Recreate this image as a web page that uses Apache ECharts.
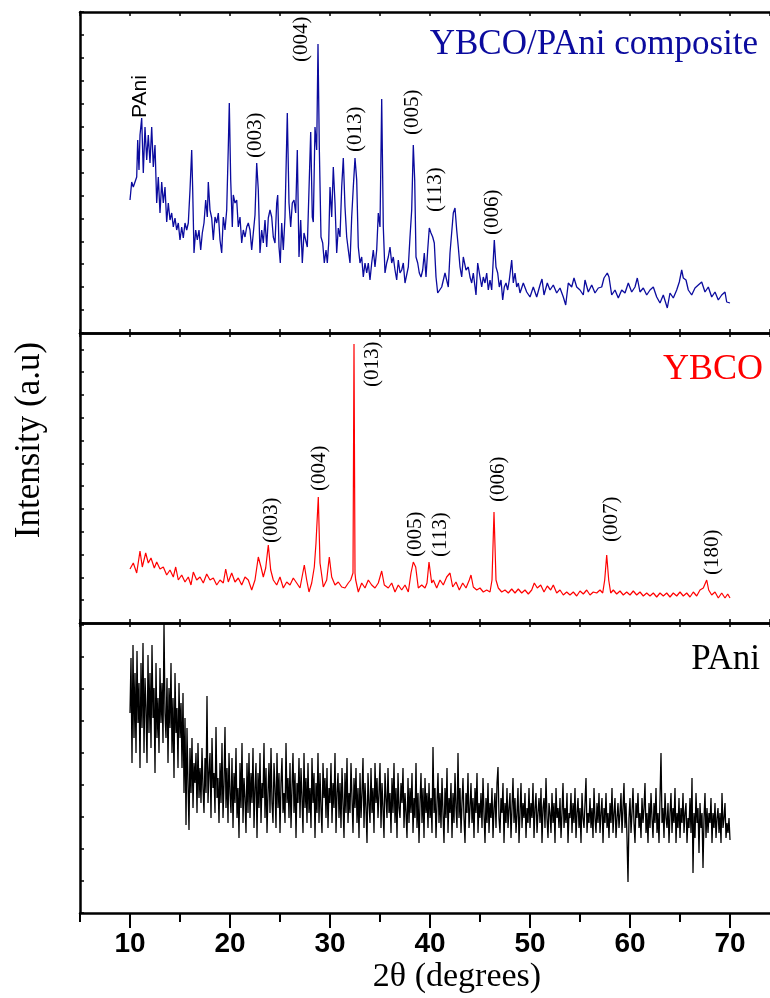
<!DOCTYPE html>
<html>
<head>
<meta charset="utf-8">
<script src="https://cdn.jsdelivr.net/npm/echarts@6/dist/echarts.min.js"></script>
<style>
  html, body { margin: 0; padding: 0; background: #ffffff; }
  #chart { width: 770px; height: 998px; }
</style>
</head>
<body>
<div id="chart"></div>
<script>
// XRD scans: [2θ (degrees), intensity (a.u.)]
const compositeScan = [
  [10.00,133],[10.17,151],[10.33,146],[10.50,151],[10.67,156],[10.77,193],[10.90,163],[11.00,198],[11.17,215],[11.33,160],
  [11.50,206],[11.67,173],[11.83,198],[12.00,170],[12.17,206],[12.33,166],[12.50,188],[12.67,130],[12.83,156],[13.00,120],
  [13.17,151],[13.33,130],[13.50,146],[13.67,111],[13.83,130],[14.00,113],[14.17,120],[14.33,106],[14.50,115],[14.67,103],
  [14.83,110],[15.00,93],[15.17,106],[15.33,95],[15.50,110],[15.67,103],[15.83,110],[16.00,143],[16.17,183],[16.27,143],
  [16.40,80],[16.57,103],[16.73,93],[16.90,103],[17.07,83],[17.23,100],[17.40,110],[17.57,133],[17.73,116],[17.83,151],
  [18.00,123],[18.17,115],[18.33,93],[18.50,116],[18.67,110],[18.83,120],[19.00,93],[19.17,80],[19.33,116],[19.50,103],
  [19.67,123],[19.83,186],[19.93,230],[20.07,153],[20.23,106],[20.33,138],[20.50,130],[20.67,133],[20.83,106],[21.00,116],
  [21.17,90],[21.33,103],[21.50,96],[21.67,106],[21.83,110],[22.00,103],[22.17,83],[22.33,100],[22.50,118],[22.67,170],
  [22.83,143],[23.00,80],[23.17,103],[23.33,90],[23.50,113],[23.67,86],[23.83,115],[24.00,123],[24.17,116],[24.33,96],
  [24.50,90],[24.67,130],[24.77,138],[24.90,86],[25.03,70],[25.17,110],[25.33,83],[25.50,116],[25.73,220],[25.90,130],
  [26.07,106],[26.23,130],[26.40,133],[26.57,120],[26.73,183],[26.90,76],[27.07,113],[27.23,70],[27.40,100],[27.57,101],
  [27.73,86],[27.90,86],[28.07,201],[28.23,116],[28.33,111],[28.50,206],[28.67,183],[28.80,289],[28.93,186],[29.10,96],
  [29.27,90],[29.43,70],[29.60,83],[29.73,70],[29.87,90],[30.00,146],[30.17,116],[30.33,166],[30.50,130],[30.67,80],
  [30.83,105],[31.00,96],[31.17,146],[31.33,175],[31.50,126],[31.67,96],[31.83,83],[32.00,70],[32.17,116],[32.33,146],
  [32.50,175],[32.67,153],[32.83,86],[33.00,70],[33.17,76],[33.33,56],[33.50,70],[33.67,60],[33.83,70],[34.00,53],
  [34.17,70],[34.33,83],[34.50,66],[34.67,83],[34.83,120],[35.00,106],[35.17,234],[35.33,106],[35.50,60],[35.67,70],
  [35.83,76],[36.00,86],[36.17,70],[36.33,76],[36.50,63],[36.67,53],[36.83,73],[37.00,60],[37.17,63],[37.33,70],
  [37.50,50],[37.67,50],[37.83,66],[38.00,96],[38.17,123],[38.33,188],[38.47,153],[38.60,76],[38.77,70],[38.93,60],
  [39.10,56],[39.27,63],[39.43,80],[39.60,56],[39.77,83],[39.93,105],[40.10,100],[40.27,96],[40.43,90],[40.60,56],
  [40.77,40],[40.93,40],[41.17,46],[41.50,60],[41.83,46],[42.00,80],[42.33,120],[42.50,125],[42.67,103],[42.83,86],
  [43.00,66],[43.17,56],[43.33,76],[43.60,63],[43.83,66],[44.00,56],[44.17,50],[44.33,60],[44.60,38],[44.77,70],
  [45.00,56],[45.17,46],[45.33,56],[45.50,50],[45.67,60],[45.83,43],[46.00,53],[46.17,43],[46.43,93],[46.60,66],
  [46.77,60],[46.93,46],[47.10,53],[47.27,33],[47.43,46],[47.60,50],[47.77,43],[47.93,53],[48.17,73],[48.33,50],
  [48.50,60],[48.67,46],[48.83,50],[49.00,40],[49.33,50],[49.67,41],[50.00,36],[50.33,46],[50.67,36],[51.00,48],
  [51.20,54],[51.40,38],[51.73,50],[52.00,43],[52.33,48],[52.67,40],[53.00,45],[53.33,36],[53.57,28],[53.83,50],
  [54.17,46],[54.40,55],[54.67,46],[55.00,43],[55.33,38],[55.50,53],[55.83,41],[56.17,48],[56.50,40],[56.83,45],
  [57.17,46],[57.40,55],[57.73,60],[57.90,56],[58.17,38],[58.50,43],[58.83,35],[59.17,43],[59.50,40],[59.83,50],
  [60.17,41],[60.50,46],[60.73,55],[61.00,41],[61.33,45],[61.67,38],[62.00,43],[62.33,46],[62.67,36],[63.00,30],
  [63.33,38],[63.73,25],[64.00,40],[64.33,35],[64.67,43],[64.93,51],[65.17,63],[65.33,55],[65.60,53],[65.83,43],
  [66.17,38],[66.50,45],[66.83,48],[67.17,51],[67.50,41],[67.83,46],[68.17,36],[68.50,41],[68.83,33],[69.17,38],
  [69.50,41],[69.67,31],[70.00,30]
];

const ybcoScan = [
  [10.00,54],[10.33,60],[10.67,50],[11.00,72],[11.23,56],[11.57,70],[11.83,60],[12.10,65],[12.43,55],[12.67,61],
  [13.00,54],[13.33,56],[13.67,48],[14.00,53],[14.33,46],[14.57,56],[14.83,43],[15.17,48],[15.50,41],[15.83,46],
  [16.10,38],[16.33,51],[16.67,43],[17.00,46],[17.33,40],[17.67,49],[18.00,43],[18.33,45],[18.67,38],[19.00,43],
  [19.33,40],[19.57,54],[19.83,41],[20.17,50],[20.50,41],[20.83,45],[21.17,38],[21.50,46],[21.83,43],[22.17,33],
  [22.50,43],[22.83,66],[23.10,56],[23.33,46],[23.57,55],[23.83,78],[24.07,53],[24.33,43],[24.67,38],[25.00,46],
  [25.33,35],[25.67,41],[26.00,38],[26.33,45],[26.67,40],[27.00,35],[27.43,58],[27.67,43],[27.90,31],[28.17,40],
  [28.43,56],[28.60,80],[28.83,126],[29.00,60],[29.10,53],[29.33,36],[29.67,43],[29.93,66],[30.17,46],[30.50,38],
  [30.83,41],[31.17,36],[31.50,35],[31.83,40],[32.07,43],[32.30,50],[32.40,279],[32.50,50],[32.57,43],[32.83,31],
  [33.17,40],[33.50,35],[33.83,43],[34.17,38],[34.50,35],[34.83,40],[35.17,52],[35.43,38],[35.83,35],[36.17,40],
  [36.50,31],[36.83,38],[37.17,33],[37.50,38],[37.83,31],[38.10,50],[38.33,61],[38.57,56],[38.83,35],[39.17,38],
  [39.50,35],[39.70,40],[39.90,61],[40.17,40],[40.33,43],[40.67,35],[41.00,43],[41.33,38],[41.67,46],[42.00,50],
  [42.27,36],[42.60,41],[42.93,33],[43.27,40],[43.60,35],[43.93,43],[44.10,48],[44.33,36],[44.67,33],[45.00,35],
  [45.33,31],[45.67,33],[46.00,31],[46.20,43],[46.40,111],[46.60,43],[46.83,35],[47.17,31],[47.50,33],[47.83,30],
  [48.17,34],[48.50,30],[48.83,34],[49.17,30],[49.50,33],[49.83,29],[50.17,33],[50.43,40],[50.73,35],[51.07,38],
  [51.40,31],[51.73,37],[52.07,33],[52.33,38],[52.67,30],[53.00,33],[53.33,28],[53.67,31],[54.00,28],[54.33,31],
  [54.67,27],[55.00,32],[55.33,29],[55.67,33],[56.00,28],[56.33,31],[56.67,30],[57.00,33],[57.27,30],[57.47,43],
  [57.67,68],[57.87,43],[58.07,30],[58.33,33],[58.67,29],[59.00,32],[59.33,28],[59.67,31],[60.00,28],[60.33,32],
  [60.67,28],[61.00,31],[61.33,27],[61.67,30],[62.00,27],[62.33,30],[62.67,26],[63.00,30],[63.33,27],[63.67,30],
  [64.00,26],[64.33,30],[64.67,27],[65.00,31],[65.33,27],[65.67,30],[66.00,26],[66.33,31],[66.67,27],[67.00,33],
  [67.33,35],[67.67,43],[67.87,33],[68.17,28],[68.50,31],[68.83,25],[69.17,30],[69.50,25],[69.77,29],[70.00,25]
];

// PAni scan sampled every 0.1° from 10.0° (one row per degree)
const paniStart = 10.0;
const paniStep = 0.1;
const paniCounts = [
  200,255,150,268,175,240,160,262,190,230,
  145,250,185,270,160,235,205,150,258,180,
  240,165,268,195,225,140,250,175,215,160,
  245,190,230,170,290,200,175,235,150,225,
  185,250,160,215,135,240,180,205,145,230,
  175,210,145,220,120,195,88,185,130,83,
  165,120,175,105,150,130,160,100,170,115,
  145,110,165,125,100,155,120,217,110,140,
  160,95,175,125,140,100,186,115,135,90,
  150,110,170,95,130,186,105,145,90,160,
  120,100,155,85,140,110,165,95,125,75,
  150,105,170,90,135,115,80,150,100,160,
  95,140,110,165,85,125,150,75,140,105,
  160,90,130,115,170,95,145,80,120,150,
  100,165,110,90,150,125,85,160,105,140,
  80,130,155,100,120,90,170,110,135,95,
  150,85,125,160,100,140,75,130,110,155,
  95,145,115,80,160,105,135,90,150,100,
  125,85,155,110,140,75,130,100,160,90,
  140,105,80,150,115,135,95,145,85,125,
  110,150,90,130,105,160,80,120,140,95,
  130,85,145,110,75,140,100,155,90,120,
  100,150,115,80,135,105,145,90,125,75,
  140,95,120,155,85,130,105,70,140,110,
  90,145,100,125,80,150,110,135,95,120,
  150,85,130,105,75,140,115,95,145,100,
  120,80,135,100,150,90,125,75,140,105,
  95,130,110,145,85,120,100,75,135,90,
  125,100,140,80,115,95,150,85,120,70,
  110,140,90,125,75,135,100,120,85,130,
  95,115,80,166,100,125,75,110,140,90,
  120,85,135,100,70,125,95,145,80,115,
  100,130,75,120,90,140,105,85,160,95,
  125,80,110,135,95,70,120,100,140,85,
  105,130,90,115,75,125,100,140,80,110,
  95,120,85,135,100,70,115,90,130,80,
  110,95,125,75,105,120,85,130,146,95,
  80,115,100,130,70,110,90,125,85,105,
  120,75,105,135,90,115,80,100,125,70,
  100,130,85,110,95,120,75,105,90,125,
  85,110,95,130,75,105,120,80,100,115,
  90,125,70,105,115,85,135,95,75,110,
  100,80,120,90,110,70,125,95,105,85,
  115,75,100,130,85,105,90,120,70,100,
  95,120,80,110,90,125,75,100,115,85,
  105,70,120,95,85,110,135,80,100,90,
  115,85,105,75,125,95,80,110,90,120,
  80,100,115,70,105,90,120,85,100,75,
  110,90,125,80,100,115,75,95,110,85,
  100,120,80,105,130,85,110,75,31,95,
  115,80,100,125,90,70,110,95,120,85,
  100,75,115,90,105,130,80,100,70,110,
  85,120,95,75,110,90,125,80,100,70,
  115,160,90,105,75,120,95,85,110,70,
  100,120,80,105,90,125,70,100,85,115,
  75,105,90,120,80,100,110,70,95,85,
  115,80,135,40,100,75,120,90,105,60,
  110,85,100,45,95,120,75,105,80,100,
  90,115,70,100,85,110,75,95,105,80,
  100,70,120,85,95,110,75,90,80,95,
  73
];

// Reflection labels: [2θ, intensity where the label starts, text]
const compositePeaks = [
  [11.0, 215, 'PAni'], [22.5, 175, '(003)'], [27.1, 271, '(004)'], [32.5, 181, '(013)'],
  [38.2, 198, '(005)'], [40.5, 121, '(113)'], [46.2, 98, '(006)']
];
const ybcoPeaks = [
  [24.1, 80, '(003)'], [28.9, 132, '(004)'], [34.2, 236, '(013)'], [38.5, 66, '(005)'],
  [41.0, 66, '(113)'], [46.8, 121, '(006)'], [58.1, 81, '(007)'], [68.2, 48, '(180)']
];

const panelNames = ['YBCO/PAni composite', 'YBCO', 'PAni'];
const xMajorTicks = [10, 20, 30, 40, 50, 60, 70];
const xMinorTicks = [5, 15, 25, 35, 45, 55, 65];
const xTitle = '2\u03b8 (degrees)';
const yTitle = 'Intensity (a.u)';

const SERIF = '"Liberation Serif", "Times New Roman", Times, serif';
const SANS = '"Liberation Sans", Arial, Helvetica, sans-serif';
const NARROW = '"Liberation Sans Narrow", "Arial Narrow", "Liberation Sans", Arial, sans-serif';
const BLUE = '#0b0b9e';
const RED = '#ff0000';
const AXIS_LINE = { color: '#000', width: 2.5 };

const paniScan = paniCounts.map((v, i) => [+(paniStart + i * paniStep).toFixed(1), v]);

function borderAxis(gridIndex, position) {
  return {
    type: 'value', gridIndex, position, min: 5, max: 74, interval: 5,
    axisLine: { show: true, onZero: false, lineStyle: AXIS_LINE },
    axisTick: { show: true, inside: true, length: 4, lineStyle: { color: '#000', width: 1.5 } },
    axisLabel: { show: false }, splitLine: { show: false }
  };
}

function sideAxis(gridIndex, max, interval) {
  return {
    type: 'value', gridIndex, min: 0, max, interval,
    axisLine: { show: true, onZero: false, lineStyle: AXIS_LINE },
    axisTick: { show: true, inside: true, length: 4, lineStyle: { color: '#000', width: 1.5 } },
    axisLabel: { show: false }, splitLine: { show: false }
  };
}

// Vertical hkl annotations anchored at the foot of each label
function peakLabels(peaks, xAxisIndex, yAxisIndex) {
  return {
    type: 'scatter', xAxisIndex, yAxisIndex, symbolSize: 1, silent: true, z: 5,
    itemStyle: { color: 'rgba(0,0,0,0)' },
    data: peaks.map(p => ({
      value: [p[0], p[1]], name: p[2],
      label: p[2] === 'PAni' ? { fontFamily: SANS } : {}
    })),
    label: {
      show: true, formatter: '{b}', rotate: 90, position: [0.5, 0.5],
      align: 'left', verticalAlign: 'middle',
      fontFamily: SERIF, fontSize: 21, color: '#000', opacity: 1
    }
  };
}

const chart = echarts.init(document.getElementById('chart'), null, { renderer: 'canvas' });

chart.setOption({
  animation: false,
  backgroundColor: '#ffffff',
  grid: [
    { left: 80, right: 0, top: 12, height: 321 },
    { left: 80, right: 0, top: 333, height: 290 },
    { left: 80, right: 0, top: 623, height: 290 }
  ],
  xAxis: [
    borderAxis(0, 'bottom'),
    borderAxis(0, 'top'),
    borderAxis(1, 'bottom'),
    borderAxis(1, 'top'),
    borderAxis(2, 'top'),
    {
      type: 'value', gridIndex: 2, position: 'bottom', min: 5, max: 74,
      axisLine: { show: true, onZero: false, lineStyle: AXIS_LINE },
      axisTick: { show: true, inside: false, length: 15, customValues: xMajorTicks,
                  lineStyle: { color: '#000', width: 2 } },
      axisLabel: { show: true, customValues: xMajorTicks, margin: 17,
                   fontFamily: NARROW, fontWeight: 'bold', fontSize: 28, color: '#000' },
      splitLine: { show: false }
    },
    {
      type: 'value', gridIndex: 2, position: 'bottom', min: 5, max: 74,
      axisLine: { show: false },
      axisTick: { show: true, inside: false, length: 9, customValues: xMinorTicks,
                  lineStyle: { color: '#000', width: 2 } },
      axisLabel: { show: false }, splitLine: { show: false }
    }
  ],
  yAxis: [
    sideAxis(0, 321, 321 / 14),
    sideAxis(1, 290, 22.8),
    sideAxis(2, 290, 32)
  ],
  series: [
    {
      type: 'line', xAxisIndex: 0, yAxisIndex: 0, data: compositeScan,
      showSymbol: false, symbol: 'none', lineStyle: { color: BLUE, width: 1.3 }
    },
    {
      type: 'line', xAxisIndex: 2, yAxisIndex: 1, data: ybcoScan,
      showSymbol: false, symbol: 'none', lineStyle: { color: RED, width: 1.2 }
    },
    {
      type: 'line', xAxisIndex: 5, yAxisIndex: 2, data: paniScan,
      showSymbol: false, symbol: 'none', lineStyle: { color: '#000', width: 1.3 }
    },
    peakLabels(compositePeaks, 0, 0),
    peakLabels(ybcoPeaks, 2, 1)
  ],
  graphic: [
    { type: 'text', right: 12, top: 27,
      style: { text: panelNames[0], fill: BLUE, font: '35px ' + SERIF } },
    { type: 'text', right: 7, top: 352,
      style: { text: panelNames[1], fill: RED, font: '36px ' + SERIF } },
    { type: 'text', right: 10, top: 642,
      style: { text: panelNames[2], fill: '#000', font: '35px ' + SERIF } },
    { type: 'text', x: 457, y: 977,
      style: { text: xTitle, fill: '#000', font: '34px ' + SERIF, align: 'center', verticalAlign: 'middle' } },
    { type: 'text', x: 30, y: 440, rotation: Math.PI / 2,
      style: { text: yTitle, fill: '#000', font: '35px ' + SERIF, align: 'center', verticalAlign: 'middle' } }
  ]
});
</script>
</body>
</html>
